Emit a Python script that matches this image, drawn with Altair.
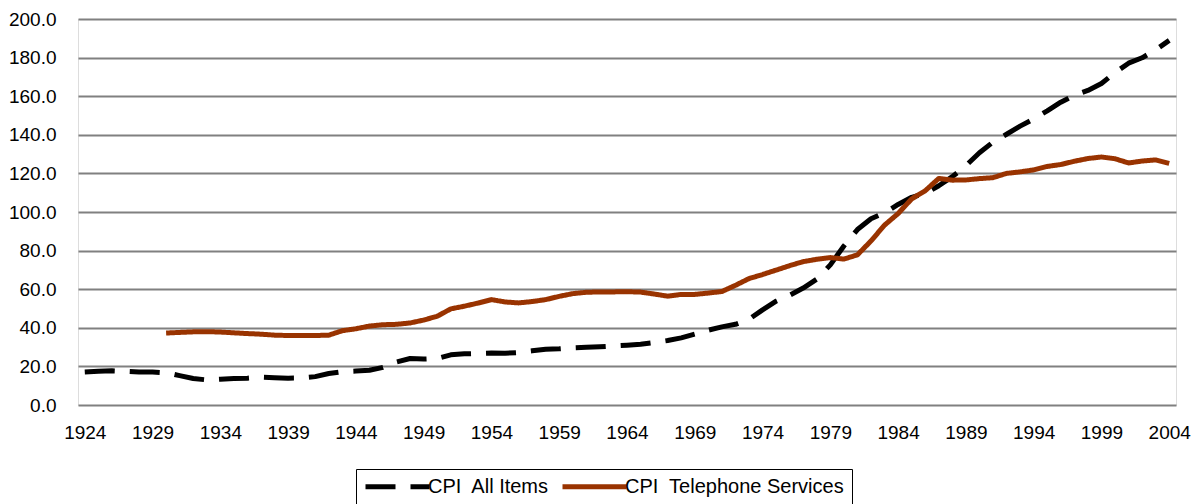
import altair as alt
import pandas as pd

years_all = list(range(1924, 2005))
cpi_all = [17.1, 17.5, 17.7, 17.4, 17.1, 17.1, 16.7, 15.2, 13.7, 13.0,
           13.4, 13.7, 13.9, 14.4, 14.1, 13.9, 14.0, 14.7, 16.3, 17.3,
           17.6, 18.0, 19.5, 22.3, 24.1, 23.8, 24.1, 26.0, 26.5, 26.7,
           26.9, 26.8, 27.2, 28.1, 28.9, 29.1, 29.6, 29.9, 30.2, 30.6,
           31.0, 31.5, 32.4, 33.4, 34.8, 36.7, 38.8, 40.5, 41.8, 44.4,
           49.3, 53.8, 56.9, 60.6, 65.2, 72.6, 82.4, 90.9, 96.5, 99.6,
           103.9, 107.6, 109.6, 113.6, 118.3, 124.0, 130.7, 136.2, 140.3, 144.5,
           148.2, 152.4, 156.9, 160.5, 163.0, 166.6, 172.2, 177.1, 179.9, 184.0,
           188.9]

years_tel = list(range(1930, 2005))
cpi_tel = [37.3, 37.6, 37.9, 38.0, 37.8, 37.4, 37.0, 36.7, 36.2, 36.0,
           36.0, 36.0, 36.2, 38.5, 39.5, 40.9, 41.6, 41.8, 42.5, 44.0,
           46.0, 49.8, 51.2, 52.8, 54.6, 53.4, 52.9, 53.6, 54.6, 56.3,
           57.7, 58.4, 58.6, 58.6, 58.7, 58.5, 57.5, 56.4, 57.3, 57.3,
           58.0, 58.8, 62.0, 65.5, 67.6, 69.9, 72.2, 74.3, 75.5, 76.4,
           75.6, 77.8, 85.0, 93.2, 99.2, 106.8, 111.0, 117.4, 116.5, 116.6,
           117.3, 117.8, 120.0, 120.8, 121.8, 123.6, 124.6, 126.3, 127.7, 128.5,
           127.6, 125.4, 126.4, 127.0, 125.2]

series_names = ["CPI\u00a0 All Items", "CPI\u00a0 Telephone Services"]
x_ticks = list(range(1924, 2005, 5))
y_ticks = list(range(0, 201, 20))

df = pd.concat([
    pd.DataFrame({"year": years_all, "value": cpi_all, "series": series_names[0]}),
    pd.DataFrame({"year": years_tel, "value": cpi_tel, "series": series_names[1]}),
])

FONT = "Liberation Sans"

legend = alt.Legend(
    title=None, orient="none", legendX=278, legendY=450, direction="horizontal",
    symbolType="M-1,0L7,0", symbolSize=256, symbolStrokeWidth=5,
    labelFont=FONT, labelFontSize=20, labelColor="black", labelOffset=44, labelLimit=400,
    columnPadding=2, padding=7, strokeColor="black", fillColor="white",
)

chart = alt.Chart(df).mark_line(strokeWidth=5, strokeCap="butt", strokeJoin="round").encode(
    x=alt.X("year:Q", scale=alt.Scale(domain=[1923.5, 2004.5], nice=False, zero=False),
            axis=alt.Axis(values=x_ticks, format="d", grid=False, domain=False, ticks=False,
                          labelFont=FONT, labelFontSize=19, labelColor="black",
                          labelPadding=18, title=None, labelFlush=False)),
    y=alt.Y("value:Q", scale=alt.Scale(domain=[0, 200], nice=False),
            axis=alt.Axis(values=y_ticks, format=".1f", grid=True, gridColor="#808080",
                          gridWidth=2, domain=False, ticks=False,
                          labelFont=FONT, labelFontSize=19, labelColor="black",
                          labelPadding=22, title=None)),
    color=alt.Color("series:N", scale=alt.Scale(domain=series_names, range=["black", "#993300"]),
                    legend=legend),
    strokeDash=alt.StrokeDash("series:N", scale=alt.Scale(domain=series_names, range=[[30, 15], [1, 0]]),
                              legend=legend),
).properties(
    width=1098, height=386,
    autosize=alt.AutoSizeParams(type="none"),
    padding={"left": 70, "top": 11, "right": 15, "bottom": 100},
).configure_view(stroke="black", strokeWidth=2).configure(background="white")

chart.save("out.html", embed_options={"renderer": "svg", "actions": False})
